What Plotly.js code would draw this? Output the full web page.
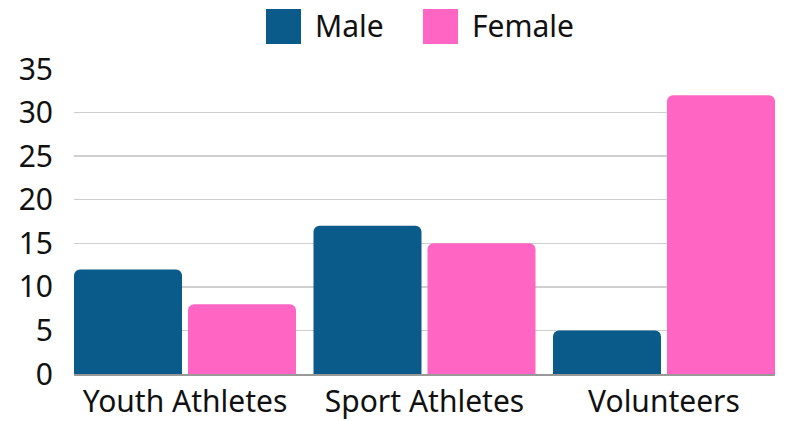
<!DOCTYPE html>
<html><head><meta charset="utf-8">
<script src="https://cdn.plot.ly/plotly-3.0.1.min.js"></script>
<style>html,body{margin:0;padding:0;background:#fff}#chart{width:785px;height:421px}</style>
</head><body><div id="chart"></div>
<script>
const categories = ["Youth Athletes", "Sport Athletes", "Volunteers"];
const maleValues = [12, 17, 5];
const femaleValues = [8, 15, 32];
const seriesNames = ["Male", "Female"];
const yTicks = [0, 5, 10, 15, 20, 25, 30, 35];

const maleColor = "#0B5B8A";
const femaleColor = "#FF66C4";
const fontFamily = "Noto Sans, Open Sans, sans-serif";
const fontSize = 30;

const traces = [
  {type: "bar", name: seriesNames[0], x: categories, y: maleValues, marker: {color: maleColor, cornerradius: 6}, showlegend: false, hoverinfo: "y"},
  {type: "bar", name: seriesNames[1], x: categories, y: femaleValues, marker: {color: femaleColor, cornerradius: 6}, showlegend: false, hoverinfo: "y"}
];

const layout = {
  width: 785, height: 421,
  margin: {l: 74, r: 10, t: 69, b: 47},
  paper_bgcolor: "#fff", plot_bgcolor: "#fff",
  font: {family: fontFamily, size: fontSize, color: "#111"},
  barmode: "group", bargap: 0.048, bargroupgap: 0.0526,
  xaxis: {type: "category", range: [-0.4635, 2.4635], showgrid: false, showline: true, linecolor: "#999", linewidth: 1.5,
          ticks: "", tickfont: {size: fontSize, color: "#111"}, automargin: false},
  yaxis: {range: [0, 35], tickvals: yTicks, showgrid: true, gridcolor: "#cfcfcf", gridwidth: 1.5,
          zeroline: false, showline: false, ticks: "", ticklabelstandoff: 20,
          tickfont: {size: fontSize, color: "#111"}, automargin: false},
  shapes: [],
  annotations: []
};

// Legend built from series names and colors
const legendItems = [
  {name: seriesNames[0], color: maleColor, px: 266},
  {name: seriesNames[1], color: femaleColor, px: 423}
];
legendItems.forEach(it => {
  const x0 = (it.px - 74) / 701, x1 = (it.px + 35 - 74) / 701;
  layout.shapes.push({type: "rect", xref: "paper", yref: "paper", x0: x0, x1: x1,
    y0: (374 - 44) / 305, y1: (374 - 9) / 305, fillcolor: it.color, line: {width: 0}});
  layout.annotations.push({xref: "paper", yref: "paper", x: (it.px + 47 - 74) / 701, y: (374 - 26) / 305,
    xanchor: "left", yanchor: "middle", text: it.name, showarrow: false,
    font: {size: fontSize, color: "#111", family: fontFamily}});
});

Plotly.newPlot("chart", traces, layout, {displayModeBar: false, staticPlot: true});
</script></body></html>
